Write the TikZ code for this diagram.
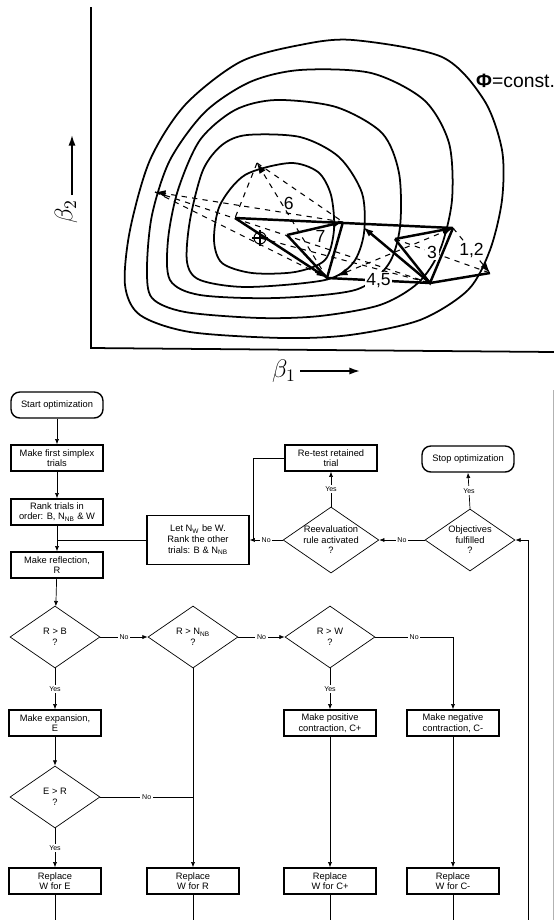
\documentclass[tikz,border=0pt]{standalone}
\usepackage{fontspec}
\setmainfont{Liberation Sans}
\usetikzlibrary{shapes.geometric, arrows.meta}
\tikzset{
  box/.style = {draw, line width=0.8pt, minimum width=1.84cm, minimum height=0.52cm,
    align=center, inner sep=1pt, font=\fontsize{5.3}{6}\selectfont},
  term/.style = {box, rounded corners=5pt},
  test/.style = {draw, diamond, aspect=1.45, minimum width=1.8cm, minimum height=1.24cm,
    inner sep=0, align=center, font=\fontsize{5.3}{6}\selectfont},
  flow/.style = {-{Latex[length=3pt,width=2.4pt]}},
  ans/.style = {fill=white, inner sep=1pt, font=\fontsize{4}{4.5}\selectfont},
  cont/.style = {line width=1pt},
  simp/.style = {line width=1.4pt},
  tip/.style = {-{Latex[length=6pt,width=4pt]}},
  num/.style = {font=\fontsize{10}{12}\selectfont, inner sep=1pt}
}
\begin{document}
\begin{tikzpicture}[x=0.02cm, y=-0.02cm]
  \useasboundingbox (0,0) rectangle (554,920);

  % axes
  \draw[line width=1pt] (91,7) -- (91,348) -- (554,352);
  \node[rotate=90] (b2) at (66,212) {\Large$\beta_2$};
  \draw[tip, line width=0.9pt] (72,195) -- (72,135);
  \node (b1) at (284,371) {\Large$\beta_1$};
  \draw[tip, line width=0.9pt] (300,371) -- (360,371);
  \node[anchor=west, font=\fontsize{11}{13}\selectfont] (phi) at (470,81) {{\bfseries Φ}=const.};

  % contours
  \draw[cont] plot[smooth cycle] coordinates {(353,40) (442,57) (484,100) (502,150)
    (502,200) (490,250) (468,290) (420,320) (350,335) (283,338) (190,332) (140,315)
    (125,285) (130,230) (150,160) (185,105) (240,62) (300,45)};
  \draw[cont] plot[smooth cycle] coordinates {(300,70) (371,73) (424,100) (449,143)
    (452,200) (440,250) (418,283) (380,305) (320,316) (260,318) (185,312) (152,298)
    (147,268) (152,215) (170,160) (205,112) (250,82)};
  \draw[cont] plot[smooth cycle] coordinates {(276,100) (336,107) (382,133) (399,173)
    (400,227) (388,265) (355,290) (276,298) (200,295) (170,280) (168,240) (178,190)
    (200,140) (235,110)};
  \draw[cont] plot[smooth cycle] coordinates {(247,135) (300,137) (339,157) (362,193)
    (364,233) (353,263) (325,280) (247,287) (200,280) (187,262) (190,220) (203,170)
    (222,145)};
  \draw[cont] plot[smooth cycle] coordinates {(290,163) (318,172) (331,195) (334,230)
    (325,260) (295,272) (252,273) (222,263) (214,240) (220,205) (245,175)};

  % simplex steps
  \coordinate (T) at (257,163);
  \coordinate (L) at (155,192);
  \coordinate (Q) at (235,218);
  \coordinate (M1) at (343,222);
  \coordinate (M2) at (363,227);
  \coordinate (E) at (453,228);
  \coordinate (F) at (395,239);
  \coordinate (G) at (287,235);
  \coordinate (B) at (327,278);
  \coordinate (B2) at (337,276);
  \coordinate (C) at (430,283);
  \coordinate (D) at (490,273);
  \coordinate (O) at (260,238);

  \draw[dashed, semithick] (T) -- (Q);
  \draw[dashed, semithick] (T) -- (M1);
  \draw[dashed, semithick, tip] (B) -- node[num, pos=.65, right] {6} (T);
  \draw[dashed, semithick, tip] (M1) -- (L);
  \draw[dashed, semithick] (L) -- (B);
  \draw[dashed, semithick] (L) -- (C);
  \draw[dashed, semithick] (O) -- (C);
  \draw[dashed, semithick, {Latex[length=6pt,width=4pt]}-{Latex[length=6pt,width=4pt]}] (B2) -- (E);
  \draw[dashed, semithick] (F) -- node[num, pos=.39, fill=white] {3} (D);
  \draw[dashed, semithick, tip] (E) -- node[num, fill=white] {1,2} (D);

  \draw[simp] (Q) -- (E);
  \draw[simp, tip] (Q) -- (B);
  \draw[simp, tip] (G) -- node[num, pos=.6, below] {7} (M1);
  \draw[simp] (G) -- (B) -- (M1);
  \draw[simp] (B) -- node[num, fill=white] {4,5} (C);
  \draw[simp, tip] (C) -- (M2);
  \draw[simp] (F) -- (C) -- (E);
  \draw[simp, tip] (F) -- (E);
  \draw[simp] (C) -- (D);
  \draw[semithick] (O) circle [radius=0.12cm];
  \draw[semithick] (O) ++(-8,0) -- ++(16,0) (O) ++(0,-8) -- ++(0,16);

  % flowchart
  \node[term] (start) at (57,405) {Start optimization};
  \node[box] (first) at (57,458) {Make first simplex\\trials};
  \node[box] (rank) at (57,512) {Rank trials in\\order: B, N\textsubscript{NB} \& W};
  \node[box] (refl) at (57,565) {Make reflection,\\R};
  \node[box, minimum width=2.04cm, minimum height=0.98cm] (let) at (198,540)
    {Let N\textsubscript{W} be W.\\Rank the other\\trials: B \& N\textsubscript{NB}};
  \node[box] (retest) at (331,458) {Re-test retained\\trial};
  \node[test] (reeval) at (331,540) {Reevaluation\\rule activated\\?};
  \node[test] (obj) at (470,540) {Objectives\\fulfilled\\?};
  \node[term] (stop) at (468,459) {Stop optimization};
  \node[test] (rb) at (55,637) {R > B\\?};
  \node[test] (rnb) at (193,637) {R > N\textsubscript{NB}\\?};
  \node[test] (rw) at (330,637) {R > W\\?};
  \node[box] (exp) at (55,723) {Make expansion,\\E};
  \node[test] (er) at (55,797) {E > R\\?};
  \node[box] (pos) at (330,723) {Make positive\\contraction, C+};
  \node[box] (neg) at (453,723) {Make negative\\contraction, C-};
  \node[box] (repE) at (55,881) {Replace\\W for E};
  \node[box] (repR) at (193,881) {Replace\\W for R};
  \node[box] (repCp) at (330,881) {Replace\\W for C+};
  \node[box] (repCm) at (453,881) {Replace\\W for C-};

  \coordinate (jn) at (57,540);
  \coordinate (rt) at (253,458);
  \coordinate (rj) at (253,540);
  \coordinate (lp) at (528,540);
  \coordinate (lpe) at (528,920);
  \coordinate (nj) at (453,637);
  \coordinate (ej) at (193,797);

  \draw[flow] (start) -- (first);
  \draw[flow] (first) -- (rank);
  \draw[flow] (rank) -- (refl);
  \draw (let.west) -- (jn);
  \draw (retest.west) -- (rt) -- (rj);
  \draw[flow] (reeval.west) -- node[ans] {No} (let.east);
  \draw[flow] (reeval.north) -- node[ans] {Yes} (retest.south);
  \draw[flow] (obj.west) -- node[ans] {No} (reeval.east);
  \draw[flow] (obj.north) -- node[ans] {Yes} (stop.south);
  \draw[flow] (lpe) -- (lp) -- (obj.east);
  \draw[flow] (refl) -- (rb);
  \draw[flow] (rb.east) -- node[ans] {No} (rnb.west);
  \draw[flow] (rnb.east) -- node[ans] {No} (rw.west);
  \draw[flow] (rw.east) -- node[ans] {No} (nj) -- (neg.north);
  \draw[flow] (rb.south) -- node[ans] {Yes} (exp.north);
  \draw[flow] (exp) -- (er);
  \draw (er.east) -- node[ans] {No} (ej);
  \draw[flow] (rnb.south) -- (repR.north);
  \draw[flow] (er.south) -- node[ans] {Yes} (repE.north);
  \draw[flow] (rw.south) -- node[ans] {Yes} (pos.north);
  \draw[flow] (pos) -- (repCp);
  \draw[flow] (neg) -- (repCm);
  \foreach \n in {repE, repR, repCp, repCm}
    \draw (\n.south) -- (\n.south |- lpe);
  \draw[gray!60] (553,390) -- (553,920);
\end{tikzpicture}
\end{document}
